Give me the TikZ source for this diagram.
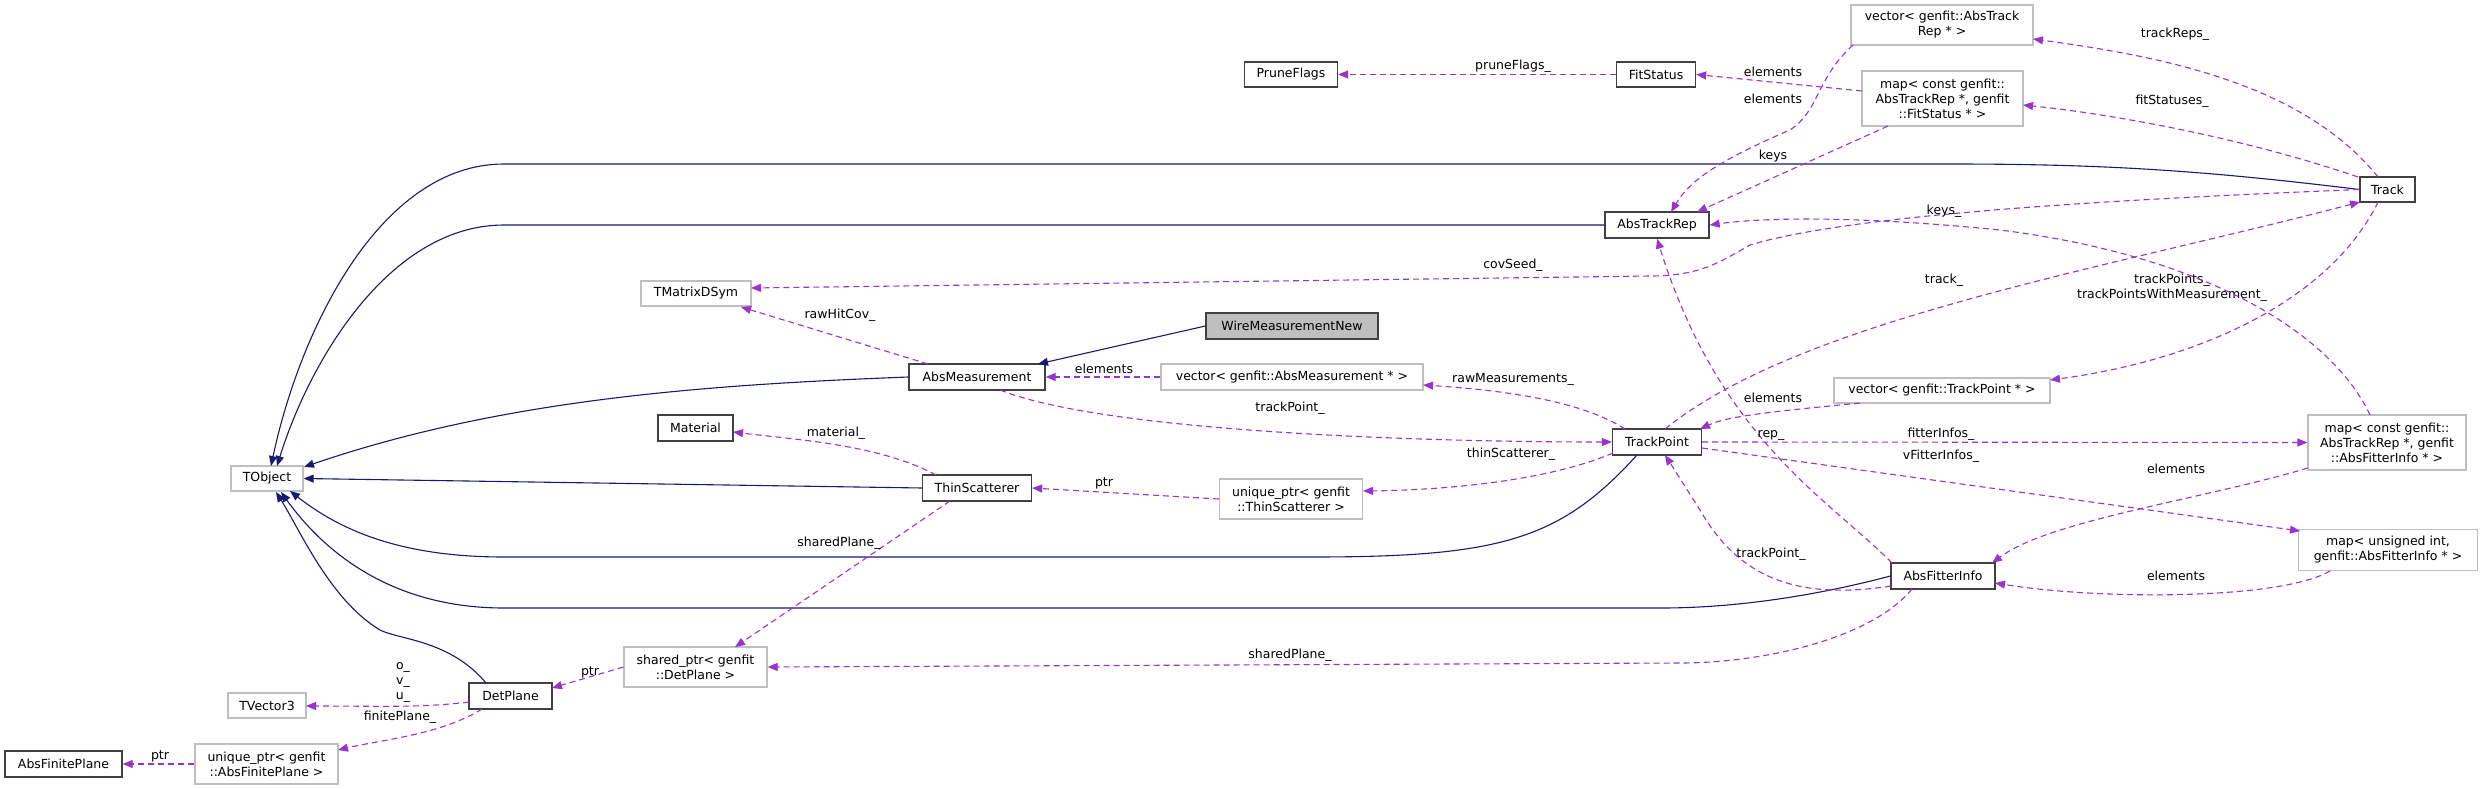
\documentclass[tikz,border=0pt]{standalone}
\usepackage{fontspec}
\setmainfont{DejaVu Sans}
\usetikzlibrary{arrows.meta}
\definecolor{navy}{HTML}{191970}
\definecolor{purp}{HTML}{9A32CD}
\begin{document}
\begin{tikzpicture}[x=1pt,y=-1pt,
  font=\fontsize{12.5}{15}\selectfont,
  box/.style={draw=black!75,line width=1.3pt,fill=white,inner sep=0pt,align=center},
  gbox/.style={draw=black!25,line width=1.3pt,fill=white,inner sep=0pt,align=center},
  inh/.style={navy,line width=1.1pt,-{Triangle[length=10pt,width=8pt]}},
  use/.style={purp,line width=1.1pt,dash pattern=on 6pt off 4pt,-{Triangle[length=10pt,width=8pt]}},
  lbl/.style={font=\fontsize{12.5}{15}\selectfont,inner sep=0pt,align=center}]
\useasboundingbox (0,0) rectangle (2483,789);
\fill[white] (0,0) rectangle (2483,789);
% nodes
\node[box,minimum width=93pt,minimum height=25pt] (prune) at (1291,74.5) {PruneFlags};
\node[box,minimum width=79pt,minimum height=25pt] (fits) at (1656,74.5) {FitStatus};
\node[box,minimum width=104pt,minimum height=26pt] (atr) at (1657,225) {AbsTrackRep};
\node[box,fill=black!25,minimum width=172pt,minimum height=26pt] (wire) at (1292,326) {WireMeasurementNew};
\node[gbox,minimum width=262pt,minimum height=26pt] (vam) at (1292,377) {vector< genfit::AbsMeasurement * >};
\node[box,minimum width=136pt,minimum height=26pt] (am) at (977,377) {AbsMeasurement};
\node[gbox,minimum width=110pt,minimum height=25pt] (tmat) at (696,293.5) {TMatrixDSym};
\node[gbox,minimum width=182pt,minimum height=40pt] (vatr) at (1942,25) {vector< genfit::AbsTrack\\Rep * >};
\node[gbox,minimum width=161pt,minimum height=55pt] (mfs) at (1942.5,98.5) {map< const genfit::\\AbsTrackRep *, genfit\\::FitStatus * >};
\node[box,minimum width=55pt,minimum height=25pt] (track) at (2387.5,189.5) {Track};
\node[gbox,minimum width=216pt,minimum height=25pt] (vtp) at (1942,390.5) {vector< genfit::TrackPoint * >};
\node[gbox,minimum width=158pt,minimum height=55pt] (mfi) at (2387,442.5) {map< const genfit::\\AbsTrackRep *, genfit\\::AbsFitterInfo * >};
\node[gbox,minimum width=179pt,minimum height=41pt] (mui) at (2388,550) {map< unsigned int,\\genfit::AbsFitterInfo * >};
\node[box,minimum width=89pt,minimum height=26pt] (tp) at (1657,442) {TrackPoint};
\node[gbox,minimum width=143pt,minimum height=40pt] (uts) at (1291,499) {unique\_ptr< genfit\\::ThinScatterer >};
\node[box,minimum width=104pt,minimum height=26pt] (afi) at (1943,576) {AbsFitterInfo};
\node[box,minimum width=109pt,minimum height=26pt] (ts) at (977,488) {ThinScatterer};
\node[gbox,minimum width=72pt,minimum height=25pt] (tobj) at (267,478.5) {TObject};
\node[box,minimum width=75pt,minimum height=26pt] (mat) at (695.5,428) {Material};
\node[gbox,minimum width=143pt,minimum height=40pt] (sdp) at (695.5,667) {shared\_ptr< genfit\\::DetPlane >};
\node[box,minimum width=83pt,minimum height=26pt] (dp) at (510.5,696) {DetPlane};
\node[gbox,minimum width=78pt,minimum height=25pt] (tv3) at (267,705.5) {TVector3};
\node[gbox,minimum width=143pt,minimum height=40pt] (uafp) at (266.5,764) {unique\_ptr< genfit\\::AbsFinitePlane >};
\node[box,minimum width=117pt,minimum height=26pt] (afp) at (63.5,764) {AbsFinitePlane};
% inheritance
\draw[inh] (track.west) .. controls (2200,170) and (2100,164) .. (1950,164) -- (504,164) .. controls (380,164) and (300,330) .. (271,466);
\draw[inh] (atr.west) -- (504,225) .. controls (390,225) and (310,360) .. (277,466);
\draw[inh] (am.west) .. controls (700,385) and (500,400) .. (304,467);
\draw[inh] (ts.west) -- (tobj.east);
\draw[inh] (1637,455) .. controls (1560,540) and (1500,557) .. (1312,557) -- (504,557) .. controls (400,557) and (340,530) .. (290,491);
\draw[inh] (afi.west) .. controls (1800,600) and (1720,608) .. (1662,608) -- (504,608) .. controls (400,608) and (330,560) .. (281,492);
\draw[inh] (486,683) .. controls (450,640) and (400,640) .. (380,630) .. controls (330,600) and (300,530) .. (276,492);
\draw[inh] (wire.west) -- (1038,364);
% usage
\draw[use] (928,364) -- (741,307);
\node[lbl] at (840,315) {rawHitCov\_};
\draw[use] (track.west) .. controls (2100,200) and (1850,215) .. (1750,245) .. controls (1720,262) and (1700,276) .. (1650,276) -- (751,288);
\node[lbl] at (1513,265) {covSeed\_};
\draw[use] (1665,429) .. controls (1800,320) and (2100,270) .. (2360,202);
\node[lbl] at (1944,280) {track\_};
\draw[use] (2378,202) .. controls (2330,300) and (2200,360) .. (2050,380);
\node[lbl] at (2172,288) {trackPoints\_\\trackPointsWithMeasurement\_};
\draw[use] (2378,177) .. controls (2300,80) and (2150,55) .. (2033,39);
\node[lbl] at (2175,34) {trackReps\_};
\draw[use] (2358,177) .. controls (2250,140) and (2120,115) .. (2023,105);
\node[lbl] at (2172,101) {fitStatuses\_};
\draw[use] (fits.west) -- (prune.east);
\node[lbl] at (1513,66) {pruneFlags\_};
\draw[use] (1862,91) -- (fits.east);
\node[lbl] at (1773,72) {elements};
\draw[use] (1853,45) .. controls (1815,80) and (1820,110) .. (1790,130) .. controls (1720,160) and (1690,180) .. (1671,212);
\node[lbl] at (1773,99) {elements};
\draw[use] (1888,126) -- (1697,212);
\node[lbl] at (1773,156) {keys};
\draw[use] (2370,415) .. controls (2330,330) and (2200,255) .. (2000,230) .. controls (1850,215) and (1760,218) .. (atr.east);
\node[lbl] at (1944,211) {keys\_};
\draw[use] (vam.west) -- (am.east);
\node[lbl] at (1104,369) {elements};
\draw[use] (1625,429) .. controls (1580,400) and (1500,390) .. (1423,385);
\node[lbl] at (1513,379) {rawMeasurements\_};
\draw[use] (1000,390) .. controls (1100,430) and (1400,442) .. (tp.west);
\node[lbl] at (1290,408) {trackPoint\_};
\draw[use] (1860,403) .. controls (1790,410) and (1730,415) .. (1700,429);
\node[lbl] at (1773,398) {elements};
\draw[use] (1892,563) .. controls (1830,500) and (1720,440) .. (atr.south);
\node[lbl] at (1771,435) {rep\_};
\draw[use] (tp.east) -- (mfi.west);
\node[lbl] at (1941,434) {fitterInfos\_};
\draw[use] (1702,448) -- (2300,531);
\node[lbl] at (1941,456) {vFitterInfos\_};
\draw[use] (2308,468) .. controls (2200,500) and (2050,520) .. (1992,563);
\node[lbl] at (2176,469) {elements};
\draw[use] (2330,571) .. controls (2280,600) and (2100,600) .. (1995,583);
\node[lbl] at (2176,576) {elements};
\draw[use] (1891,586) .. controls (1800,600) and (1740,580) .. (1700,510) -- (1665,455);
\node[lbl] at (1771,554) {trackPoint\_};
\draw[use] (1912,589) .. controls (1870,640) and (1760,663) .. (1680,663) -- (sdp.east);
\node[lbl] at (1290,655) {sharedPlane\_};
\draw[use] (950,501) -- (735,647);
\node[lbl] at (839,543) {sharedPlane\_};
\draw[use] (uts.west) -- (ts.east);
\node[lbl] at (1104,483) {ptr};
\draw[use] (1613,453) .. controls (1550,480) and (1450,490) .. (1363,491);
\node[lbl] at (1511,454) {thinScatterer\_};
\draw[use] (936,475) .. controls (880,445) and (800,440) .. (733,432);
\node[lbl] at (836,433) {material\_};
\draw[use] (sdp.west) -- (552,688);
\node[lbl] at (590,672) {ptr};
\draw[use] (469,702) .. controls (420,708) and (380,706) .. (306,706);
\node[lbl,inner sep=0pt] at (403,682) {o\_\\v\_\\u\_};
\draw[use] (482,709) .. controls (440,735) and (380,740) .. (338,750);
\node[lbl] at (400,717) {finitePlane\_};
\draw[use] (uafp.west) -- (afp.east);
\node[lbl] at (160,756) {ptr};
\end{tikzpicture}
\end{document}
